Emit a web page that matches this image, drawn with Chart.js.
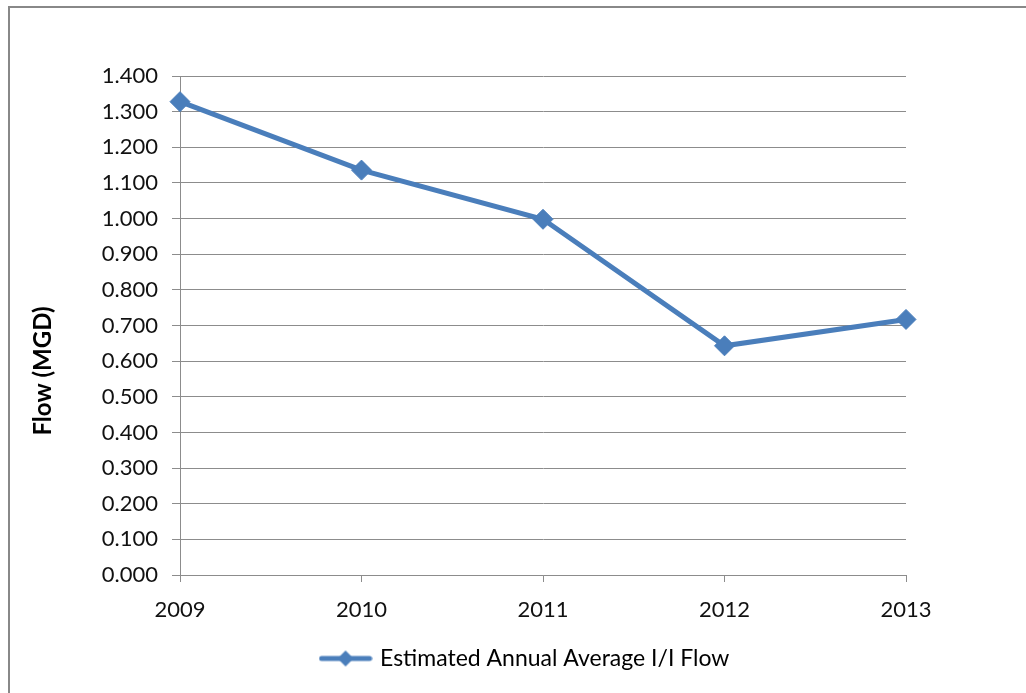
<!DOCTYPE html>
<html>
<head>
<meta charset="utf-8">
<script src="https://cdn.jsdelivr.net/npm/chart.js@4"></script>
<style>
  body { margin: 0; background: #fff; }
  #wrap { position: relative; width: 1026px; height: 693px; overflow: hidden; }
  #frame { position: absolute; left: 8px; top: 6px; width: 1040px; height: 720px;
           border: 2px solid #888; box-sizing: border-box; pointer-events: none; }
  canvas { position: absolute; left: 0; top: 0; }
</style>
</head>
<body>
<div id="wrap">
  <div id="frame"></div>
  <canvas id="grafica" width="1026" height="693"></canvas>
</div>
<script>
const anios = ['2009', '2010', '2011', '2012', '2013'];
const flujo = [1.328, 1.136, 0.998, 0.643, 0.717];
const etiqueta = 'Estimated Annual Average I/I Flow';
const tituloEje = 'Flow (MGD)';
const azul = '#4a7ebb';
const fuente = 'Lato, "Open Sans", sans-serif';

// marcador de la leyenda: linea con rombo
const marca = document.createElement('canvas');
marca.width = 54; marca.height = 18;
let mc = marca.getContext('2d');
mc.strokeStyle = azul; mc.lineWidth = 5; mc.lineCap = 'round';
mc.beginPath(); mc.moveTo(3, 9); mc.lineTo(51, 9); mc.stroke();
mc.fillStyle = azul;
mc.beginPath(); mc.moveTo(27, 1); mc.lineTo(35, 9); mc.lineTo(27, 17); mc.lineTo(19, 9); mc.closePath(); mc.fill();

// mueve la leyenda al centro del marco
const moverLeyenda = {
    id: 'moverLeyenda',
    afterLayout(chart) {
        chart.legend.left += 73;
        chart.legend.right += 73;
    }
};

// titulo del eje y, girado y algo por debajo del centro
const tituloY = {
    id: 'tituloY',
    afterDraw(chart) {
        const c = chart.ctx;
        c.save();
        c.translate(43, chart.chartArea.bottom - 204);
        c.rotate(-Math.PI / 2);
        c.font = 'bold 24px ' + fuente;
        c.fillStyle = '#000';
        c.textAlign = 'center';
        c.textBaseline = 'middle';
        c.fillText(tituloEje, 0, 0);
        c.restore();
    }
};

const ctx = document.getElementById('grafica');
const grafica = new Chart(ctx, {
    type: 'line',
    data: {
        labels: anios,
        datasets: [{
            label: etiqueta,
            data: flujo,
            borderColor: azul,
            backgroundColor: azul,
            borderWidth: 5,
            pointStyle: 'rectRot',
            pointRadius: 10,
            pointBorderWidth: 1,
            tension: 0
        }]
    },
    options: {
        responsive: false,
        animation: false,
        layout: { padding: { top: 76, right: 120, bottom: 13, left: 0 } },
        plugins: {
            tooltip: { enabled: false },
            legend: {
                position: 'bottom',
                labels: {
                    usePointStyle: true,
                    pointStyle: marca,
                    pointStyleWidth: 46,
                    color: '#222',
                    padding: 10,
                    font: { family: fuente, size: 23 },
                    generateLabels: function(chart) {
                        return [{ text: etiqueta, pointStyle: marca, fillStyle: azul, strokeStyle: azul, lineWidth: 0, datasetIndex: 0 }];
                    }
                }
            }
        },
        scales: {
            x: {
                offset: false,
                grid: { drawOnChartArea: false, color: '#8c8c8c', tickLength: 7 },
                border: { color: '#8c8c8c', width: 1 },
                ticks: { color: '#111', padding: 15, maxRotation: 0,
                         font: { family: fuente, size: 22 } },
                afterFit: function(s) { s.height = 62; }
            },
            y: {
                min: 0,
                max: 1.4,
                ticks: {
                    stepSize: 0.1,
                    color: '#111',
                    padding: 14,
                    font: { family: fuente, size: 22 },
                    callback: function(v) { return v.toFixed(3); }
                },
                grid: { color: '#8c8c8c', tickLength: 8 },
                border: { color: '#8c8c8c', width: 1 },
                afterFit: function(s) { s.width = 180; }
            }
        }
    },
    plugins: [moverLeyenda, tituloY]
});
</script>
</body>
</html>
